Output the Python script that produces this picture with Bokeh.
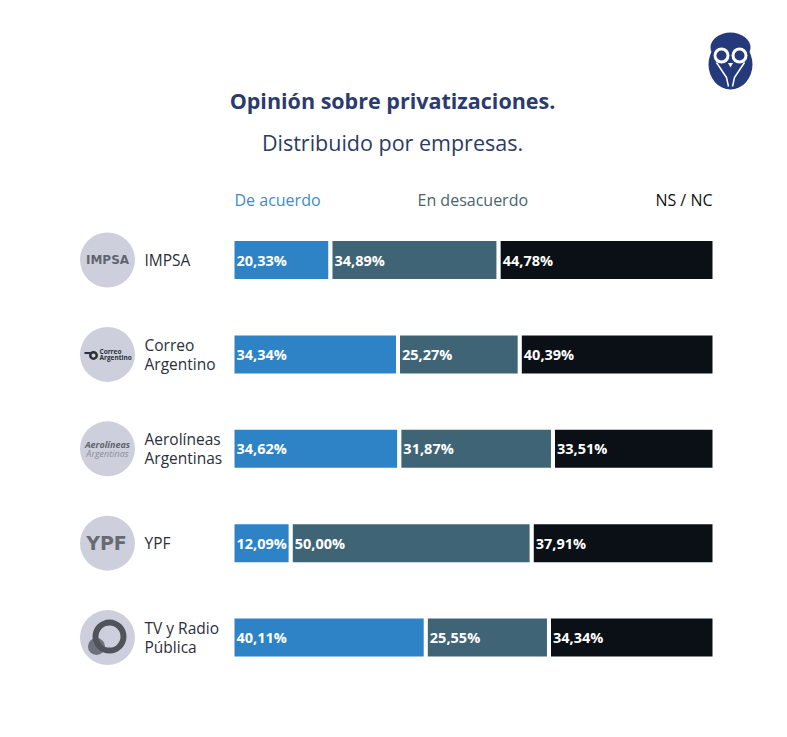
from bokeh.plotting import figure
from bokeh.models import Range1d, ColumnDataSource
from bokeh.core.properties import value
from bokeh.embed import file_html
from bokeh.resources import INLINE

# ---- data ----
companies = ["IMPSA", "Correo\nArgentino", "Aerolíneas\nArgentinas", "YPF", "TV y Radio\nPública"]
de_acuerdo = [20.33, 34.34, 34.62, 12.09, 40.11]
en_desacuerdo = [34.89, 25.27, 31.87, 50.00, 25.55]
ns_nc = [44.78, 40.39, 33.51, 37.91, 34.34]
series_names = ["De acuerdo", "En desacuerdo", "NS / NC"]
series_colors = ["#2E83C6", "#3F6475", "#0B0F16"]
header_colors = ["#3F8BC7", "#4A6470", "#111111"]
title = "Opinión sobre privatizaciones."
subtitle = "Distribuido por empresas."

FONT = "Open Sans"
W, H = 771, 721
PX = 4.82          # pixels per percent
XS0 = 232          # page x of 0 %
ROW0 = 259.5       # page y of first row
STEP = 94.4        # page px per row

def sx(px):
    return (px - XS0) / PX

def sy(py):
    return (py - ROW0) / STEP

p = figure(width=W, height=H, output_backend="svg", toolbar_location=None,
           x_range=Range1d(sx(0), sx(W)), y_range=Range1d(sy(H), sy(0)),
           min_border=0)
p.axis.visible = False
p.grid.visible = False
p.outline_line_color = None
p.background_fill_color = "white"
p.border_fill_color = "white"

rows = list(range(len(companies)))

# ---- stacked bars ----
series = [de_acuerdo, en_desacuerdo, ns_nc]
left = [0.0] * len(rows)
for vals, col in zip(series, series_colors):
    right = [l + v for l, v in zip(left, vals)]
    src = ColumnDataSource(dict(y=rows, left=left, right=right,
                                lab=[f"{v:.2f}".replace(".", ",") + "%" for v in vals]))
    p.hbar(y="y", left="left", right="right", height=42 / STEP, source=src,
           fill_color=col, line_color="white", line_width=4)
    p.text(x="left", y="y", text="lab", source=src, x_offset=4,
           text_font=value(FONT), text_font_style="bold", text_font_size="14.5px",
           text_color="white", text_baseline="middle", text_align="left")
    left = right

# ---- headers ----
p.text(x=[sx(234)], y=[sy(199)], text=[series_names[0]], text_font=value(FONT),
       text_font_size="16px", text_color=header_colors[0], text_baseline="middle", text_align="left")
p.text(x=[sx(417)], y=[sy(199)], text=[series_names[1]], text_font=value(FONT),
       text_font_size="16px", text_color=header_colors[1], text_baseline="middle", text_align="left")
p.text(x=[sx(712)], y=[sy(199)], text=[series_names[2]], text_font=value(FONT),
       text_font_size="16px", text_color=header_colors[2], text_baseline="middle", text_align="right")

# ---- titles ----
p.text(x=[sx(392)], y=[sy(100)], text=[title], text_font=value(FONT), text_font_style="bold",
       text_font_size="21.5px", text_color="#2B3B6F", text_baseline="middle", text_align="center")
p.text(x=[sx(392)], y=[sy(142)], text=[subtitle], text_font=value(FONT),
       text_font_size="21.5px", text_color="#2E3B63", text_baseline="middle", text_align="center")

# ---- row labels ----
p.text(x=[sx(144)] * len(rows), y=rows, text=companies, text_font=value(FONT),
       text_font_size="15.5px", text_color="#2A2F3A", text_baseline="middle", text_align="left",
       text_line_height=0.86)

# ---- logo circles ----
p.scatter(x=[sx(107)] * len(rows), y=rows, size=55, marker="circle",
          fill_color="#CDD0DC", line_color=None)
# IMPSA
p.text(x=[sx(107)], y=[0], text=["IMPSA"], text_font=value("DejaVu Sans"), text_font_style="bold",
       text_font_size="12px", text_color="#62656F", text_baseline="middle", text_align="center")
# Correo Argentino
p.text(x=[sx(99)], y=[1], text=["Correo\nArgentino"], text_font=value(FONT), text_font_style="bold",
       text_font_size="6.5px", text_color="#2A2F3A", text_baseline="middle", text_align="left",
       text_line_height=0.75)
p.annulus(x=[sx(93)], y=[1 + 1 / STEP], inner_radius=2, outer_radius=4.5,
          inner_radius_units="screen", outer_radius_units="screen", fill_color="#2A2F3A", line_color=None)
p.rect(x=[sx(87)], y=[1 - 1.5 / STEP], width=6, height=2, width_units="screen", height_units="screen",
       fill_color="#2A2F3A", line_color=None)
# Aerolíneas
p.text(x=[sx(107)], y=[2 - 4 / STEP], text=["Aerolíneas"], text_font=value(FONT), text_font_style="bold italic",
       text_font_size="9px", text_color="#60636C", text_baseline="middle", text_align="center")
p.text(x=[sx(107)], y=[2 + 5 / STEP], text=["Argentinas"], text_font=value(FONT), text_font_style="italic",
       text_font_size="9px", text_color="#8A8D96", text_baseline="middle", text_align="center")
# YPF
p.text(x=[sx(106)], y=[3], text=["YPF"], text_font=value("DejaVu Sans"), text_font_style="bold",
       text_font_size="19px", text_color="#676A73", text_baseline="middle", text_align="center")
# TV y Radio Pública
p.scatter(x=[sx(96)], y=[4 + 9 / STEP], size=17, marker="circle", fill_color="#5E6069",
          fill_alpha=0.85, line_color=None)
p.annulus(x=[sx(109)], y=[4 - 1 / STEP], inner_radius=11, outer_radius=17,
          inner_radius_units="screen", outer_radius_units="screen",
          fill_color="#50535C", line_color=None)

# ---- owl logo ----
NAVY = "#253A7B"
p.ellipse(x=[sx(730)], y=[sy(64)], width=44, height=50, width_units="screen", height_units="screen",
          fill_color=NAVY, line_color=None)
p.ellipse(x=[sx(730)], y=[sy(47)], width=40, height=30, width_units="screen", height_units="screen",
          fill_color=NAVY, line_color=None)
p.scatter(x=[sx(721), sx(739)], y=[sy(55), sy(55)], size=16, marker="circle",
          fill_color="white", line_color=None)
p.scatter(x=[sx(721), sx(739)], y=[sy(55), sy(55)], size=10, marker="circle",
          fill_color=NAVY, line_color=None)
p.scatter(x=[sx(730)], y=[sy(64)], size=5, marker="triangle", angle=3.14159,
          fill_color="white", line_color=None)
p.line(x=[sx(716), sx(726), sx(728)], y=[sy(62), sy(77), sy(86)], line_color="white", line_width=1.5)
p.line(x=[sx(744), sx(734), sx(732)], y=[sy(62), sy(77), sy(86)], line_color="white", line_width=1.5)

open("out.html", "w").write(file_html(p, INLINE))
